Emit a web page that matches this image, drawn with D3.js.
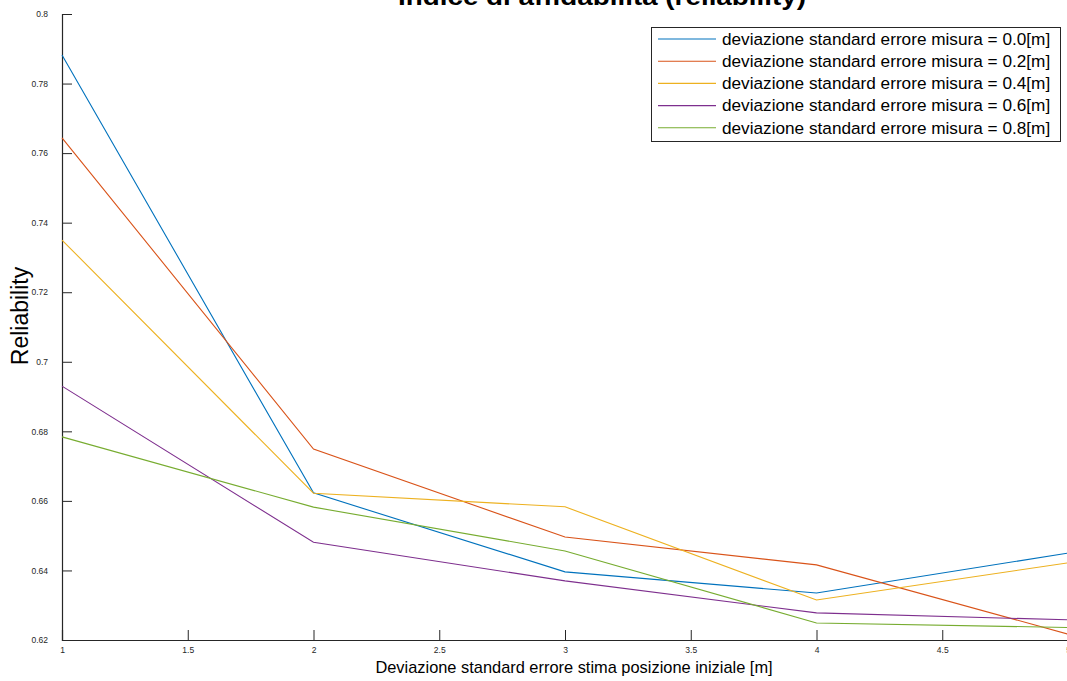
<!DOCTYPE html>
<html><head><meta charset="utf-8">
<script src="https://cdn.jsdelivr.net/npm/d3@7"></script>
<style>body{margin:0;background:#fff;}svg{display:block;font-family:"Liberation Sans",Arial,Helvetica,sans-serif;}</style>
</head><body>
<svg id="c" width="1067" height="681"></svg>
<script>
const xValues = [1, 2, 3, 4, 5];
const seriesNames = [
  "deviazione standard errore misura = 0.0[m]",
  "deviazione standard errore misura = 0.2[m]",
  "deviazione standard errore misura = 0.4[m]",
  "deviazione standard errore misura = 0.6[m]",
  "deviazione standard errore misura = 0.8[m]"
];
const s00 = [0.7882, 0.6623, 0.6396, 0.6335, 0.6450];
const s02 = [0.7644, 0.6749, 0.6496, 0.6416, 0.6217];
const s04 = [0.7350, 0.6622, 0.6583, 0.6315, 0.6422];
const s06 = [0.6930, 0.6481, 0.6370, 0.6278, 0.6258];
const s08 = [0.6784, 0.6582, 0.6456, 0.6249, 0.6236];
const xTicks = [1, 1.5, 2, 2.5, 3, 3.5, 4, 4.5, 5];
const yTicks = [0.62, 0.64, 0.66, 0.68, 0.70, 0.72, 0.74, 0.76, 0.78, 0.8];
const colors = ["#0072BD", "#D95319", "#EDB120", "#7E2F8E", "#77AC30"];
const allSeries = [s00, s02, s04, s06, s08];

const svg = d3.select("#c");
const L = 62, R = 1068, T = 14, B = 640;
const x = d3.scaleLinear().domain([1, 5]).range([L, R]);
const y = d3.scaleLinear().domain([0.62, 0.8]).range([B, T]);

// axes (ticks inward)
const xAxis = d3.axisBottom(x).tickValues(xTicks).tickSize(-10).tickPadding(12)
  .tickFormat(d => d3.format("")(d));
const yAxis = d3.axisLeft(y).tickValues(yTicks).tickSize(-10).tickPadding(14)
  .tickFormat(d => (+d.toFixed(2)).toString());

const gx = svg.append("g").attr("transform", `translate(0,${B})`).call(xAxis);
const gy = svg.append("g").attr("transform", `translate(${L},0)`).call(yAxis);
[gx, gy].forEach(g => {
  g.select(".domain").attr("stroke", "#262626").attr("stroke-width", 1.2);
  g.selectAll(".tick line").attr("stroke", "#262626").attr("stroke-width", 1);
  g.selectAll(".tick text").attr("fill", "#262626").attr("font-size", 8.5)
    .attr("font-family", "Liberation Sans, Arial, sans-serif");
});
gx.selectAll(".tick text").attr("dy", "0.1em");

// lines
const line = d3.line().x((d, i) => x(xValues[i])).y(d => y(d));
allSeries.forEach((s, i) => {
  svg.append("path").datum(s).attr("d", line)
    .attr("fill", "none").attr("stroke", colors[i]).attr("stroke-width", 1.1);
});

// title
svg.append("text").attr("x", 398).attr("y", 5).attr("text-anchor", "start")
  .attr("font-weight", "bold").attr("font-size", 24).attr("fill", "#000")
  .attr("textLength", 408).attr("lengthAdjust", "spacingAndGlyphs")
  .text("Indice di affidabilità (reliability)");

// axis labels
svg.append("text").attr("x", 574).attr("y", 673).attr("text-anchor", "middle")
  .attr("font-size", 16.4).attr("fill", "#000")
  .text("Deviazione standard errore stima posizione iniziale [m]");
svg.append("text").attr("transform", `translate(28,316) rotate(-90)`)
  .attr("text-anchor", "middle").attr("font-size", 23).attr("fill", "#000")
  .text("Reliability");

// legend
const lg = svg.append("g");
lg.append("rect").attr("x", 651.5).attr("y", 27.5).attr("width", 409).attr("height", 114)
  .attr("fill", "#fff").attr("stroke", "#262626").attr("stroke-width", 1);
seriesNames.forEach((n, i) => {
  const yy = 39 + i * 22.2;
  lg.append("line").attr("x1", 658).attr("x2", 716).attr("y1", yy).attr("y2", yy)
    .attr("stroke", colors[i]).attr("stroke-width", 1.1);
  lg.append("text").attr("x", 722).attr("y", yy + 5.8).attr("font-size", 17.2)
    .attr("fill", "#000").text(n);
});
</script>
</body></html>
